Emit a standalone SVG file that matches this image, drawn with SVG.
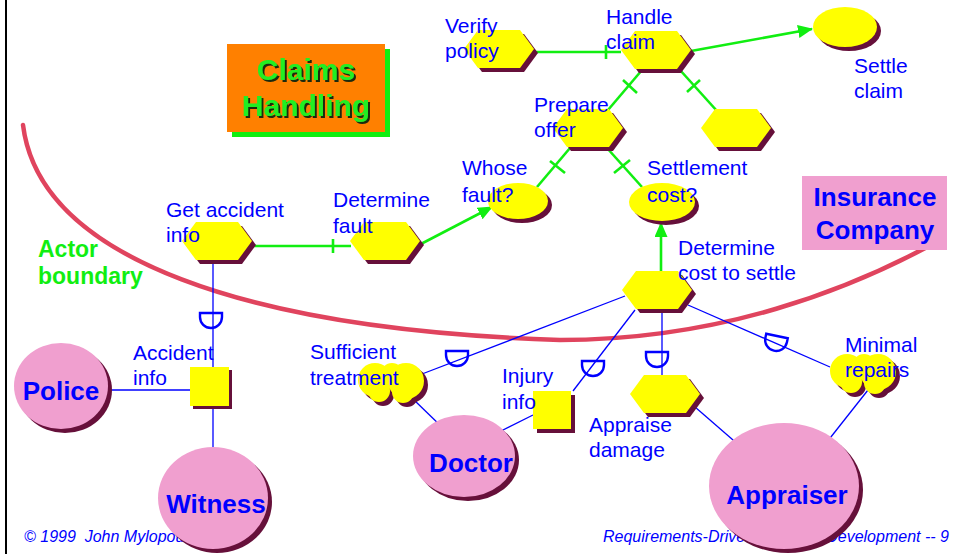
<svg xmlns="http://www.w3.org/2000/svg" xmlns:xlink="http://www.w3.org/1999/xlink" width="956" height="554" viewBox="0 0 956 554">
<style>
.lbl{font-family:"Liberation Sans",Arial,sans-serif;font-size:21px;fill:#0000FF}
.act{font-family:"Liberation Sans",Arial,sans-serif;font-size:26px;font-weight:bold;fill:#0000FF;text-anchor:middle}
.foot{font-family:"Liberation Sans",Arial,sans-serif;font-size:16px;font-style:italic;fill:#0000FF}
.yel{fill:#FFFF00}
.shd{fill:#66103A}
.pink{fill:#F09FCF}
.g{stroke:#11EE11;stroke-width:2.6;fill:none}
.b{stroke:#0000FF;stroke-width:1.3;fill:none}
.dm{stroke:#0000FF;stroke-width:2.4;fill:none}
</style>
<defs>
<path id="hex" d="M-35,0 L-21,-19 L21,-19 L35,0 L21,19 L-21,19 Z"/>
<path id="dmark" d="M-11,0 L11,0 L11,4 A11,11 0 0 1 -11,4 Z"/>
<g id="cloud">
<circle cx="17" cy="18" r="17"/>
<circle cx="34" cy="12" r="11"/>
<circle cx="48" cy="19" r="18"/>
<circle cx="21" cy="29" r="11"/>
<circle cx="45" cy="30" r="11"/>
</g>
<filter id="tshadow" x="-10%" y="-10%" width="130%" height="130%">
<feDropShadow dx="2" dy="2" stdDeviation="0" flood-color="#1A2A10" flood-opacity="1"/>
</filter>
<marker id="arr" markerUnits="userSpaceOnUse" markerWidth="15" markerHeight="13" viewBox="0 0 15 13" refX="14" refY="6.5" orient="auto">
<path d="M0,0 L15,6.5 L0,13 Z" fill="#11EE11"/>
</marker>
</defs>

<line x1="6" y1="0" x2="6" y2="554" stroke="#000" stroke-width="2"/>

<path id="actor-boundary" d="M23,125 C40,260 250,330 560,340 C720,340 850,290 940,240" fill="none" stroke="#E0445E" stroke-width="4.5" stroke-linecap="round"/>

<text class="foot" x="24" y="542">©&#160;1999&#160; John Mylopoulos</text>
<text class="foot" x="603" y="542">Requirements-Driven Software Development -- 9</text>

<g id="claims-handling">
<rect x="232" y="49" width="158" height="88" fill="#11EE11"/>
<rect x="227" y="44" width="158" height="88" fill="#FF8000"/>
<g font-family="'Liberation Sans',Arial,sans-serif" font-size="30" font-weight="bold" text-anchor="middle" fill="#22EE22" filter="url(#tshadow)">
<text x="306" y="80">Claims</text>
<text x="306" y="116">Handling</text>
</g>
</g>

<g id="actor-boundary-label" font-family="'Liberation Sans',Arial,sans-serif" font-size="23" font-weight="bold" fill="#11EE11">
<text x="38" y="257">Actor</text>
<text x="38" y="284">boundary</text>
</g>

<g id="connectors">
<line class="g" x1="531" y1="52" x2="621" y2="52"/>
<line class="g" x1="606" y1="45" x2="606" y2="59"/>
<line class="g" x1="691" y1="51" x2="812" y2="29" marker-end="url(#arr)"/>
<line class="g" x1="642" y1="70" x2="608" y2="110"/>
<line class="g" x1="623" y1="80" x2="637" y2="93"/>
<line class="g" x1="680" y1="70" x2="717" y2="111"/>
<line class="g" x1="687" y1="92" x2="700" y2="80"/>
<line class="g" x1="570" y1="148" x2="537" y2="187"/>
<line class="g" x1="550" y1="161" x2="565" y2="173"/>
<line class="g" x1="607" y1="148" x2="642" y2="187"/>
<line class="g" x1="614" y1="173" x2="630" y2="160"/>
<line class="g" x1="252" y1="246" x2="351" y2="246"/>
<line class="g" x1="333" y1="239" x2="333" y2="253"/>
<line class="g" x1="419" y1="245" x2="492" y2="207" marker-end="url(#arr)"/>
<line class="g" x1="661" y1="272" x2="661" y2="223" marker-end="url(#arr)"/>

<line class="b" x1="213" y1="260" x2="213" y2="367"/>
<use href="#dmark" xlink:href="#dmark" class="dm" x="211" y="313"/>
<line class="b" x1="102" y1="390" x2="190" y2="390"/>
<line class="b" x1="213" y1="406" x2="213" y2="463"/>
<line class="b" x1="625" y1="296" x2="422" y2="374"/>
<use href="#dmark" xlink:href="#dmark" class="dm" x="457" y="351"/>
<line class="b" x1="635" y1="310" x2="573" y2="391"/>
<use href="#dmark" xlink:href="#dmark" class="dm" x="593" y="361"/>
<line class="b" x1="662" y1="309" x2="662" y2="375"/>
<use href="#dmark" xlink:href="#dmark" class="dm" x="657" y="352"/>
<line class="b" x1="688" y1="305" x2="830" y2="367"/>
<use href="#dmark" xlink:href="#dmark" class="dm" transform="translate(777,336) rotate(12)"/>
<line class="b" x1="413" y1="399" x2="445" y2="430"/>
<line class="b" x1="533" y1="415" x2="487" y2="438"/>
<line class="b" x1="695" y1="407" x2="748" y2="453"/>
<line class="b" x1="868" y1="390" x2="823" y2="447"/>
</g>

<g id="verify-policy">
<use href="#hex" xlink:href="#hex" class="shd" x="503" y="53"/>
<use href="#hex" xlink:href="#hex" class="yel" x="499" y="49"/>
<text class="lbl" x="445" y="33">Verify</text>
<text class="lbl" x="445" y="58">policy</text>
</g>

<g id="handle-claim">
<use href="#hex" xlink:href="#hex" class="shd" x="660" y="54"/>
<use href="#hex" xlink:href="#hex" class="yel" x="656" y="50"/>
<text class="lbl" x="606" y="24">Handle</text>
<text class="lbl" x="606" y="49">claim</text>
</g>

<g id="settle-claim">
<ellipse class="shd" cx="849" cy="31" rx="32" ry="20"/>
<ellipse class="yel" cx="845" cy="27" rx="32" ry="20"/>
<text class="lbl" x="854" y="73">Settle</text>
<text class="lbl" x="854" y="98">claim</text>
</g>

<g id="prepare-offer">
<use href="#hex" xlink:href="#hex" class="shd" x="592" y="132"/>
<use href="#hex" xlink:href="#hex" class="yel" x="588" y="128"/>
<text class="lbl" x="534" y="112">Prepare</text>
<text class="lbl" x="534" y="137">offer</text>
</g>

<g id="unnamed-goal">
<use href="#hex" xlink:href="#hex" class="shd" x="740" y="132"/>
<use href="#hex" xlink:href="#hex" class="yel" x="736" y="128"/>
</g>

<g id="whose-fault">
<ellipse class="shd" cx="522" cy="205" rx="30" ry="18"/>
<ellipse class="yel" cx="518" cy="201" rx="30" ry="18"/>
<text class="lbl" x="462" y="175">Whose</text>
<text class="lbl" x="462" y="202">fault?</text>
</g>

<g id="settlement-cost">
<ellipse class="shd" cx="666" cy="206" rx="33" ry="19"/>
<ellipse class="yel" cx="662" cy="202" rx="33" ry="19"/>
<text class="lbl" x="647" y="175">Settlement</text>
<text class="lbl" x="647" y="202">cost?</text>
</g>

<g id="get-accident-info">
<use href="#hex" xlink:href="#hex" class="shd" x="221" y="245"/>
<use href="#hex" xlink:href="#hex" class="yel" x="217" y="241"/>
<text class="lbl" x="166" y="217">Get accident</text>
<text class="lbl" x="166" y="242">info</text>
</g>

<g id="determine-fault">
<use href="#hex" xlink:href="#hex" class="shd" x="389" y="245"/>
<use href="#hex" xlink:href="#hex" class="yel" x="385" y="241"/>
<text class="lbl" x="333" y="207">Determine</text>
<text class="lbl" x="333" y="233">fault</text>
</g>

<g id="determine-cost">
<use href="#hex" xlink:href="#hex" class="shd" x="661" y="294"/>
<use href="#hex" xlink:href="#hex" class="yel" x="657" y="290"/>
<text class="lbl" x="678" y="255">Determine</text>
<text class="lbl" x="678" y="280">cost to settle</text>
</g>

<g id="appraise-damage">
<use href="#hex" xlink:href="#hex" class="shd" x="669" y="398"/>
<use href="#hex" xlink:href="#hex" class="yel" x="665" y="394"/>
<text class="lbl" x="589" y="432">Appraise</text>
<text class="lbl" x="589" y="457">damage</text>
</g>

<g id="accident-info">
<rect class="shd" x="193" y="370" width="39" height="39"/>
<rect class="yel" x="190" y="367" width="39" height="39"/>
<text class="lbl" x="133" y="360">Accident</text>
<text class="lbl" x="133" y="385">info</text>
</g>

<g id="injury-info">
<rect class="shd" x="537" y="395" width="38" height="38"/>
<rect class="yel" x="533" y="391" width="38" height="38"/>
<text class="lbl" x="502" y="383">Injury</text>
<text class="lbl" x="502" y="409">info</text>
</g>

<g id="sufficient-treatment">
<use href="#cloud" xlink:href="#cloud" class="shd" x="362" y="366"/>
<use href="#cloud" xlink:href="#cloud" class="yel" x="358" y="362"/>
<text class="lbl" x="310" y="359">Sufficient</text>
<text class="lbl" x="310" y="385">treatment</text>
</g>

<g id="minimal-repairs">
<use href="#cloud" xlink:href="#cloud" class="shd" x="834" y="357"/>
<use href="#cloud" xlink:href="#cloud" class="yel" x="830" y="353"/>
<text class="lbl" x="845" y="352">Minimal</text>
<text class="lbl" x="845" y="377">repairs</text>
</g>

<g id="police">
<ellipse class="shd" cx="65" cy="390" rx="47" ry="43"/>
<ellipse class="pink" cx="61" cy="386" rx="47" ry="43"/>
<text class="act" x="61" y="400">Police</text>
</g>

<g id="witness">
<ellipse class="shd" cx="217" cy="502" rx="55" ry="51"/>
<ellipse class="pink" cx="213" cy="498" rx="55" ry="51"/>
<text class="act" x="216" y="513">Witness</text>
</g>

<g id="doctor">
<ellipse class="shd" cx="468" cy="460" rx="51" ry="41"/>
<ellipse class="pink" cx="464" cy="456" rx="51" ry="41"/>
<text class="act" x="471" y="472">Doctor</text>
</g>

<g id="appraiser">
<ellipse class="shd" cx="788" cy="490" rx="75" ry="63"/>
<ellipse class="pink" cx="784" cy="486" rx="75" ry="63"/>
<text class="act" x="787" y="504">Appraiser</text>
</g>

<g id="insurance-company">
<rect class="pink" x="802" y="176" width="145" height="74"/>
<text class="act" x="875" y="206">Insurance</text>
<text class="act" x="875" y="239">Company</text>
</g>
</svg>
